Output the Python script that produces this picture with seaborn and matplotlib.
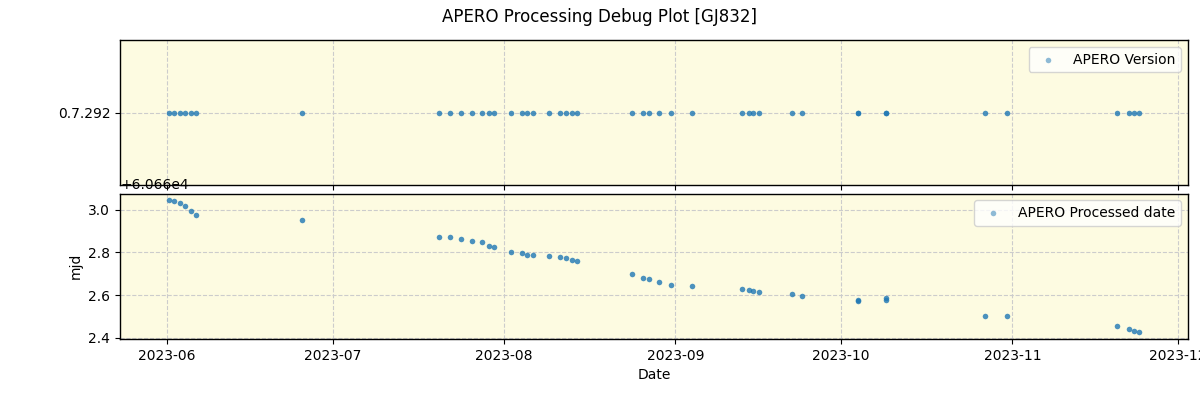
import matplotlib
matplotlib.use("Agg")
import matplotlib.pyplot as plt
import matplotlib.dates as mdates
import seaborn as sns
import pandas as pd

# Observation dates (x)
obs_dates = [
    "2023-06-01 07:00", "2023-06-02 05:00", "2023-06-03 07:00", "2023-06-04 06:00",
    "2023-06-05 07:00", "2023-06-06 05:00", "2023-06-25 10:00",
    "2023-07-20 05:00", "2023-07-22 05:00", "2023-07-24 05:00", "2023-07-26 05:00",
    "2023-07-28 00:00", "2023-07-29 07:00", "2023-07-30 05:00",
    "2023-08-02 07:00", "2023-08-04 07:00", "2023-08-05 05:00", "2023-08-06 05:00",
    "2023-08-09 02:00", "2023-08-11 02:00", "2023-08-12 05:00", "2023-08-13 07:00",
    "2023-08-14 05:00",
    "2023-08-24 04:00", "2023-08-26 04:00", "2023-08-27 07:00", "2023-08-29 02:00",
    "2023-08-31 06:00", "2023-09-04 01:00",
    "2023-09-13 03:00", "2023-09-14 06:00", "2023-09-15 03:00", "2023-09-16 04:00",
    "2023-09-22 05:00", "2023-09-24 00:00",
    "2023-10-04 02:00", "2023-10-04 02:00", "2023-10-09 01:00", "2023-10-09 01:00",
    "2023-10-27 02:00", "2023-10-31 02:00",
    "2023-11-20 00:00", "2023-11-22 01:00", "2023-11-23 02:00", "2023-11-24 00:00",
]

# Processed date (MJD)
processed_mjd = [
    60663.045, 60663.040, 60663.031, 60663.019, 60662.994, 60662.975, 60662.952,
    60662.873, 60662.873, 60662.864, 60662.854, 60662.850, 60662.831, 60662.826,
    60662.803, 60662.797, 60662.789, 60662.786, 60662.785, 60662.780, 60662.772,
    60662.766, 60662.761,
    60662.701, 60662.682, 60662.678, 60662.664, 60662.650, 60662.645,
    60662.631, 60662.626, 60662.622, 60662.617, 60662.605, 60662.598,
    60662.578, 60662.571, 60662.585, 60662.577,
    60662.505, 60662.501,
    60662.454, 60662.440, 60662.431, 60662.426,
]

apero_version = ["0.7.292"] * len(obs_dates)

df = pd.DataFrame({
    "date": pd.to_datetime(obs_dates),
    "mjd": processed_mjd,
    "version": apero_version,
})

sns.set_style("ticks")
plt.rcParams["font.family"] = ["DejaVu Sans"]
plt.rcParams.update({
    "text.color": "black",
    "axes.labelcolor": "black",
    "xtick.color": "black",
    "ytick.color": "black",
})

fig, (ax1, ax2) = plt.subplots(2, 1, figsize=(12, 4), dpi=100, sharex=True)
fig.subplots_adjust(left=0.1, right=0.99, top=0.9, bottom=0.1525, hspace=0.055)

bg = "#fdfbe1"
color = "#1f77b4"

sns.scatterplot(data=df, x="date", y="version", ax=ax1, s=16, color=color,
                alpha=0.8, linewidth=0, label="APERO Version")
sns.scatterplot(data=df, x="date", y="mjd", ax=ax2, s=16, color=color,
                alpha=0.8, linewidth=0, label="APERO Processed date")

for ax in (ax1, ax2):
    ax.set_facecolor(bg)
    ax.grid(True, linestyle="--", color="#cccccc", linewidth=0.8)
    ax.set_axisbelow(True)
    for sp in ax.spines.values():
        sp.set_visible(True)
        sp.set_color("black")
        sp.set_linewidth(1.0)
    ax.tick_params(axis="both", which="both", direction="out", length=3.5,
                   color="black", labelcolor="black", labelsize=10)
    leg = ax.legend(loc="upper right", fontsize=10, framealpha=0.8)
    for t in leg.get_texts():
        t.set_color("black")
    for h in leg.legend_handles:
        h.set_alpha(0.5)

ax1.set_ylim(-1, 1)
ax1.set_ylabel("")
ax1.set_xlabel("")
ax2.set_ylabel("mjd", fontsize=10, color="black")
ax2.set_xlabel("Date", fontsize=10, color="black")
ax2.set_yticks([60662.4, 60662.6, 60662.8, 60663.0])
ax2.yaxis.get_offset_text().set_color("black")
ax2.xaxis.set_major_locator(mdates.MonthLocator())
ax2.xaxis.set_major_formatter(mdates.DateFormatter("%Y-%m"))
plt.setp(ax1.get_xticklabels(), visible=False)

fig.suptitle("APERO Processing Debug Plot [GJ832]", fontsize=12, color="black")

fig.savefig("out.png", dpi=100)
